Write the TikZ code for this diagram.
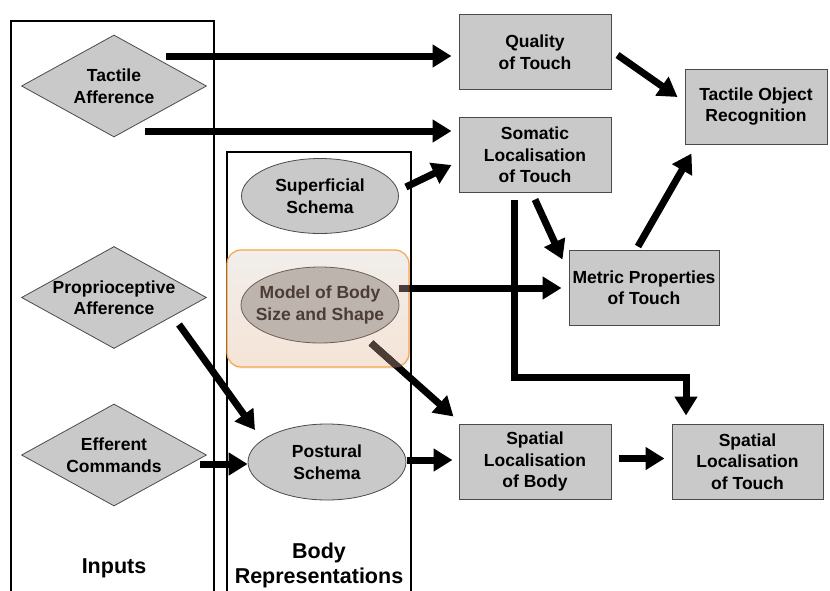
\documentclass[tikz,border=0pt]{standalone}
\usepackage{fontspec}
\setmainfont{Liberation Sans}
\usetikzlibrary{arrows.meta,shapes.geometric,shadows,calc}
\definecolor{boxfill}{HTML}{C9C9C9}
\definecolor{boxline}{HTML}{4A4A4A}
\definecolor{hlline}{HTML}{F7A548}
\definecolor{hltop}{HTML}{F1EEEC}
\definecolor{hlbot}{HTML}{F5E4D6}
\definecolor{mbfill}{HTML}{BDB4AE}
\definecolor{mbline}{HTML}{6B5F58}
\definecolor{mbtext}{HTML}{4B3D36}
\begin{document}
\begin{tikzpicture}[x=1pt,y=-1pt,
  txt/.style={font=\fontsize{17.5}{21.5}\selectfont\bfseries, align=center, inner sep=0pt},
  bigtxt/.style={font=\fontsize{21.5}{25}\selectfont\bfseries, align=center, inner sep=0pt},
  dia/.style={diamond, draw=boxline, line width=0.8pt, fill=boxfill, minimum width=185pt, minimum height=102pt, inner sep=0pt},
  ell/.style={ellipse, draw=boxline, line width=0.8pt, fill=boxfill, minimum width=157pt, minimum height=75pt, inner sep=0pt},
  box/.style={rectangle, draw=boxline, line width=1pt, fill=boxfill, minimum width=152pt, minimum height=75pt, inner sep=0pt, txt},
  frame/.style={line width=1.4pt, draw=black},
  arr/.style={line width=7pt, -{Triangle[length=19pt,width=22pt]}},
  hl/.style={rectangle, rounded corners=14pt, draw=hlline, line width=1.2pt, top color=hltop, bottom color=hlbot, drop shadow={opacity=0.1, shadow xshift=1pt, shadow yshift=-2pt}, minimum width=182pt, minimum height=117pt, inner sep=0pt}
]
\useasboundingbox (0,0) rectangle (830,590);

% frames
\draw[frame] (11,591) -- (11,21) -- (214,21) -- (214,591);
\draw[frame] (227,591) -- (227,152) -- (411,152) -- (411,591);

% highlight
\node[hl] (hlbox) at (318,308.5) {};

% inputs
\node[dia, label={[txt]center:Tactile\\Afference}] (ta) at (114,86) {};
\node[dia, label={[txt]center:Proprioceptive\\Afference}] (pa) at (114,297.5) {};
\node[dia, label={[txt]center:Efferent\\Commands}] (ec) at (114,455) {};

% body representations
\node[ell, label={[txt]center:Superficial\\Schema}] (ss) at (320,196) {};
\node[ell, fill=mbfill, draw=mbline, minimum width=158pt, minimum height=76pt, label={[txt, text=mbtext]center:Model of Body\\Size and Shape}] (mb) at (320,305) {};
\node[ell, minimum width=158pt, minimum height=76pt, label={[txt]center:Postural\\Schema}] (ps) at (327,462) {};

% outputs
\node[box] (qt) at (535,52) {Quality\\of Touch};
\node[box] (sl) at (535,155) {Somatic\\Localisation\\of Touch};
\node[box, minimum width=142pt] (tor) at (756,106.5) {Tactile Object\\Recognition};
\node[box, minimum width=150pt] (mp) at (644,287.5) {Metric Properties\\of Touch};
\node[box] (slb) at (535,461.5) {Spatial\\Localisation\\of Body};
\node[box, minimum width=151pt] (slt) at (747.5,461.5) {Spatial\\Localisation\\of Touch};

% labels
\node[bigtxt] (inl) at (114,568) {Inputs};
\node[bigtxt] (brl) at (319,565.5) {Body\\Representations};

% connectors
\coordinate (a1) at (166,56);
\coordinate (a2) at (145,131);
\draw[arr, shorten >=7pt] (a1) -- (qt.west |- a1);
\draw[arr, shorten >=7pt] (a2) -- (sl.west |- a2);
\draw[arr] ($(ss.east)+(7,-9)$) -- ($(sl.west)+(-7,10)$);
\coordinate (a4) at ($(mb.east)+(0,-17)$);
\draw[arr, shorten >=7pt] (a4) -- (mp.west |- a4);
\coordinate (a5) at ($(mb.center)+(51,38)$);
\draw[arr] (a5) -- ($(slb.north west)+(-5,-7)$);
\draw[arr] ($(pa.center)+(65,27)$) -- ($(ps.center)+(-72,-32)$);
\coordinate (a7) at ($(ec.center)+(86,9)$);
\draw[arr] (a7) -- (ps.west |- a7);
\coordinate (a8) at ($(ps.east)+(1,-2)$);
\draw[arr, shorten >=6pt] (a8) -- (slb.west |- a8);
\coordinate (a9) at ($(slb.east)+(7,-3)$);
\draw[arr, shorten >=7pt] (a9) -- (slt.west |- a9);
\draw[arr] ($(qt.east)+(6,3)$) -- ($(tor.west)+(-7,-9.5)$);
\draw[arr] ($(sl.south)+(0,6.5)$) -- ($(mp.north west)+(-6,10)$);
\draw[arr] ($(mp.north)+(-6,-3)$) -- ($(tor.south west)+(7,9)$);
\coordinate (el) at (686,377);
\draw[arr, shorten >=8pt] ($(sl.south)+(-21,6.5)$) |- (el) -- (el |- slt.north);

% parts of the arrows under the highlight
\begin{scope}
  \clip[rounded corners=14pt] (hlbox.south west) rectangle (hlbox.north east);
  \draw[arr, draw=mbtext, shorten >=7pt] (a4) -- (mp.west |- a4);
  \draw[arr, draw=mbtext] (a5) -- ($(slb.north west)+(-5,-7)$);
\end{scope}
\end{tikzpicture}
\end{document}
